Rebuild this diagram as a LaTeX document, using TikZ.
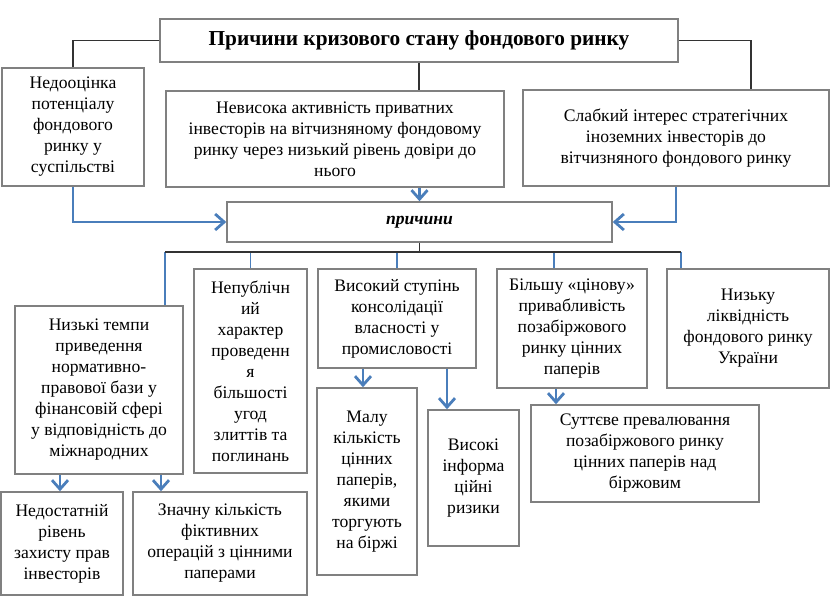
\documentclass[tikz,border=0pt]{standalone}
\usepackage{fontspec}
\setmainfont{Liberation Serif}
\usetikzlibrary{arrows.meta}
\definecolor{boxgray}{HTML}{808080}
\definecolor{arrowblue}{HTML}{4A7EBB}
\begin{document}
\begin{tikzpicture}[x=1pt,y=-1pt,
  box/.style={draw=boxgray, line width=1.5pt, fill=white, align=center, inner sep=0pt,
    font=\fontsize{17.6}{21}\selectfont},
  blk/.style={draw=black!80, line width=1.3pt},
  thinblue/.style={draw=arrowblue, line width=1.2pt},
  bluearrow/.style={draw=arrowblue, line width=2.8pt, -{Straight Barb[length=9pt,width=16pt,line width=2.8pt]}},
]
\useasboundingbox (0,0) rectangle (833,600);
\fill[white] (0,0) rectangle (833,600);

\node[box, minimum width=518pt, minimum height=43pt, font=\fontsize{21.3}{24}\selectfont\bfseries] (title) at (419,40.5) {Причини кризового стану фондового ринку};
\node[box, minimum width=142pt, minimum height=118pt] (A) at (73,127) {Недооцінка\\потенціалу\\фондового\\ринку у\\суспільстві};
\node[box, minimum width=338pt, minimum height=96pt] (B) at (335,139) {Невисока активність приватних\\інвесторів на вітчизняному фондовому\\ринку через низький рівень довіри до\\нього};
\node[box, minimum width=306pt, minimum height=96pt] (C) at (676,138) {Слабкий інтерес стратегічних\\іноземних інвесторів до\\вітчизняного фондового ринку};
\node[box, minimum width=385pt, minimum height=40pt, font=\fontsize{17.6}{21}\selectfont\bfseries\itshape] (P) at (419.5,222) {причини};

\node[box, minimum width=113pt, minimum height=204pt] (D) at (250.5,371) {Непублічн\\ий\\характер\\проведенн\\я\\більшості\\угод\\злиттів та\\поглинань};
\node[box, minimum width=158pt, minimum height=99pt] (E) at (397,318.5) {Високий ступінь\\консолідації\\власності у\\промисловості};
\node[box, minimum width=150pt, minimum height=119pt] (F) at (572,328.5) {Більшу «цінову»\\привабливість\\позабіржового\\ринку цінних\\паперів};
\node[box, minimum width=162pt, minimum height=119pt] (G) at (748,328.5) {Низьку\\ліквідність\\фондового ринку\\України};
\node[box, minimum width=168pt, minimum height=168pt] (H) at (99,390) {Низькі темпи\\приведення\\нормативно-\\правової бази у\\фінансовій сфері\\у відповідність до\\міжнародних};
\node[box, minimum width=122pt, minimum height=103pt] (I) at (62,543.5) {Недостатній\\рівень\\захисту прав\\інвесторів};
\node[box, minimum width=174pt, minimum height=103pt] (J) at (220,543.5) {Значну кількість\\фіктивних\\операцій з цінними\\паперами};
\node[box, minimum width=100pt, minimum height=187pt] (K) at (367,481.5) {Малу\\кількість\\цінних\\паперів,\\якими\\торгують\\на біржі};
\node[box, minimum width=91pt, minimum height=136pt] (L) at (473.5,478) {Високі\\інформа\\ційні\\ризики};
\node[box, minimum width=228pt, minimum height=97pt] (M) at (645,453.5) {Суттєве превалювання\\позабіржового ринку\\цінних паперів над\\біржовим};

% top black connectors
\draw[blk] (title.west) -| (A.north);
\draw[blk] (title.east) -| ([xshift=75pt]C.north);
\draw[blk] (title.south) -- (title.south |- B.north);

% blue arrows into "причини"
\draw[bluearrow] (A.south) |- (P.west);
\draw[bluearrow] (B.south -| P.north) -- (P.north);
\draw[bluearrow] (C.south) |- (P.east);

% bus below "причини"
\coordinate (busL) at (165,252);
\coordinate (busR) at (681,252);
\draw[blk] (P.south) -- (P.south |- busL);
\draw[thinblue] (busL) -- (busL |- H.north);
\draw[thinblue] (D.north |- busL) -- (D.north);
\draw[thinblue] (E.north |- busL) -- (E.north);
\draw[thinblue] ([xshift=-18pt]F.north |- busL) -- ([xshift=-18pt]F.north);
\draw[thinblue] (busR) -- (busR |- G.north);
\draw[blk] (busL) -- (busR);

% lower arrows
\draw[bluearrow] ([xshift=-39pt]H.south) -- ([xshift=-39pt]H.south |- I.north);
\draw[bluearrow] ([xshift=62pt]H.south) -- ([xshift=62pt]H.south |- J.north);
\draw[bluearrow] ([xshift=-34pt]E.south) -- ([xshift=-34pt]E.south |- K.north);
\draw[bluearrow] ([xshift=50pt]E.south) -- ([xshift=50pt]E.south |- L.north);
\draw[bluearrow] ([xshift=-16pt]F.south) -- ([xshift=-16pt]F.south |- M.north);
\end{tikzpicture}
\end{document}
